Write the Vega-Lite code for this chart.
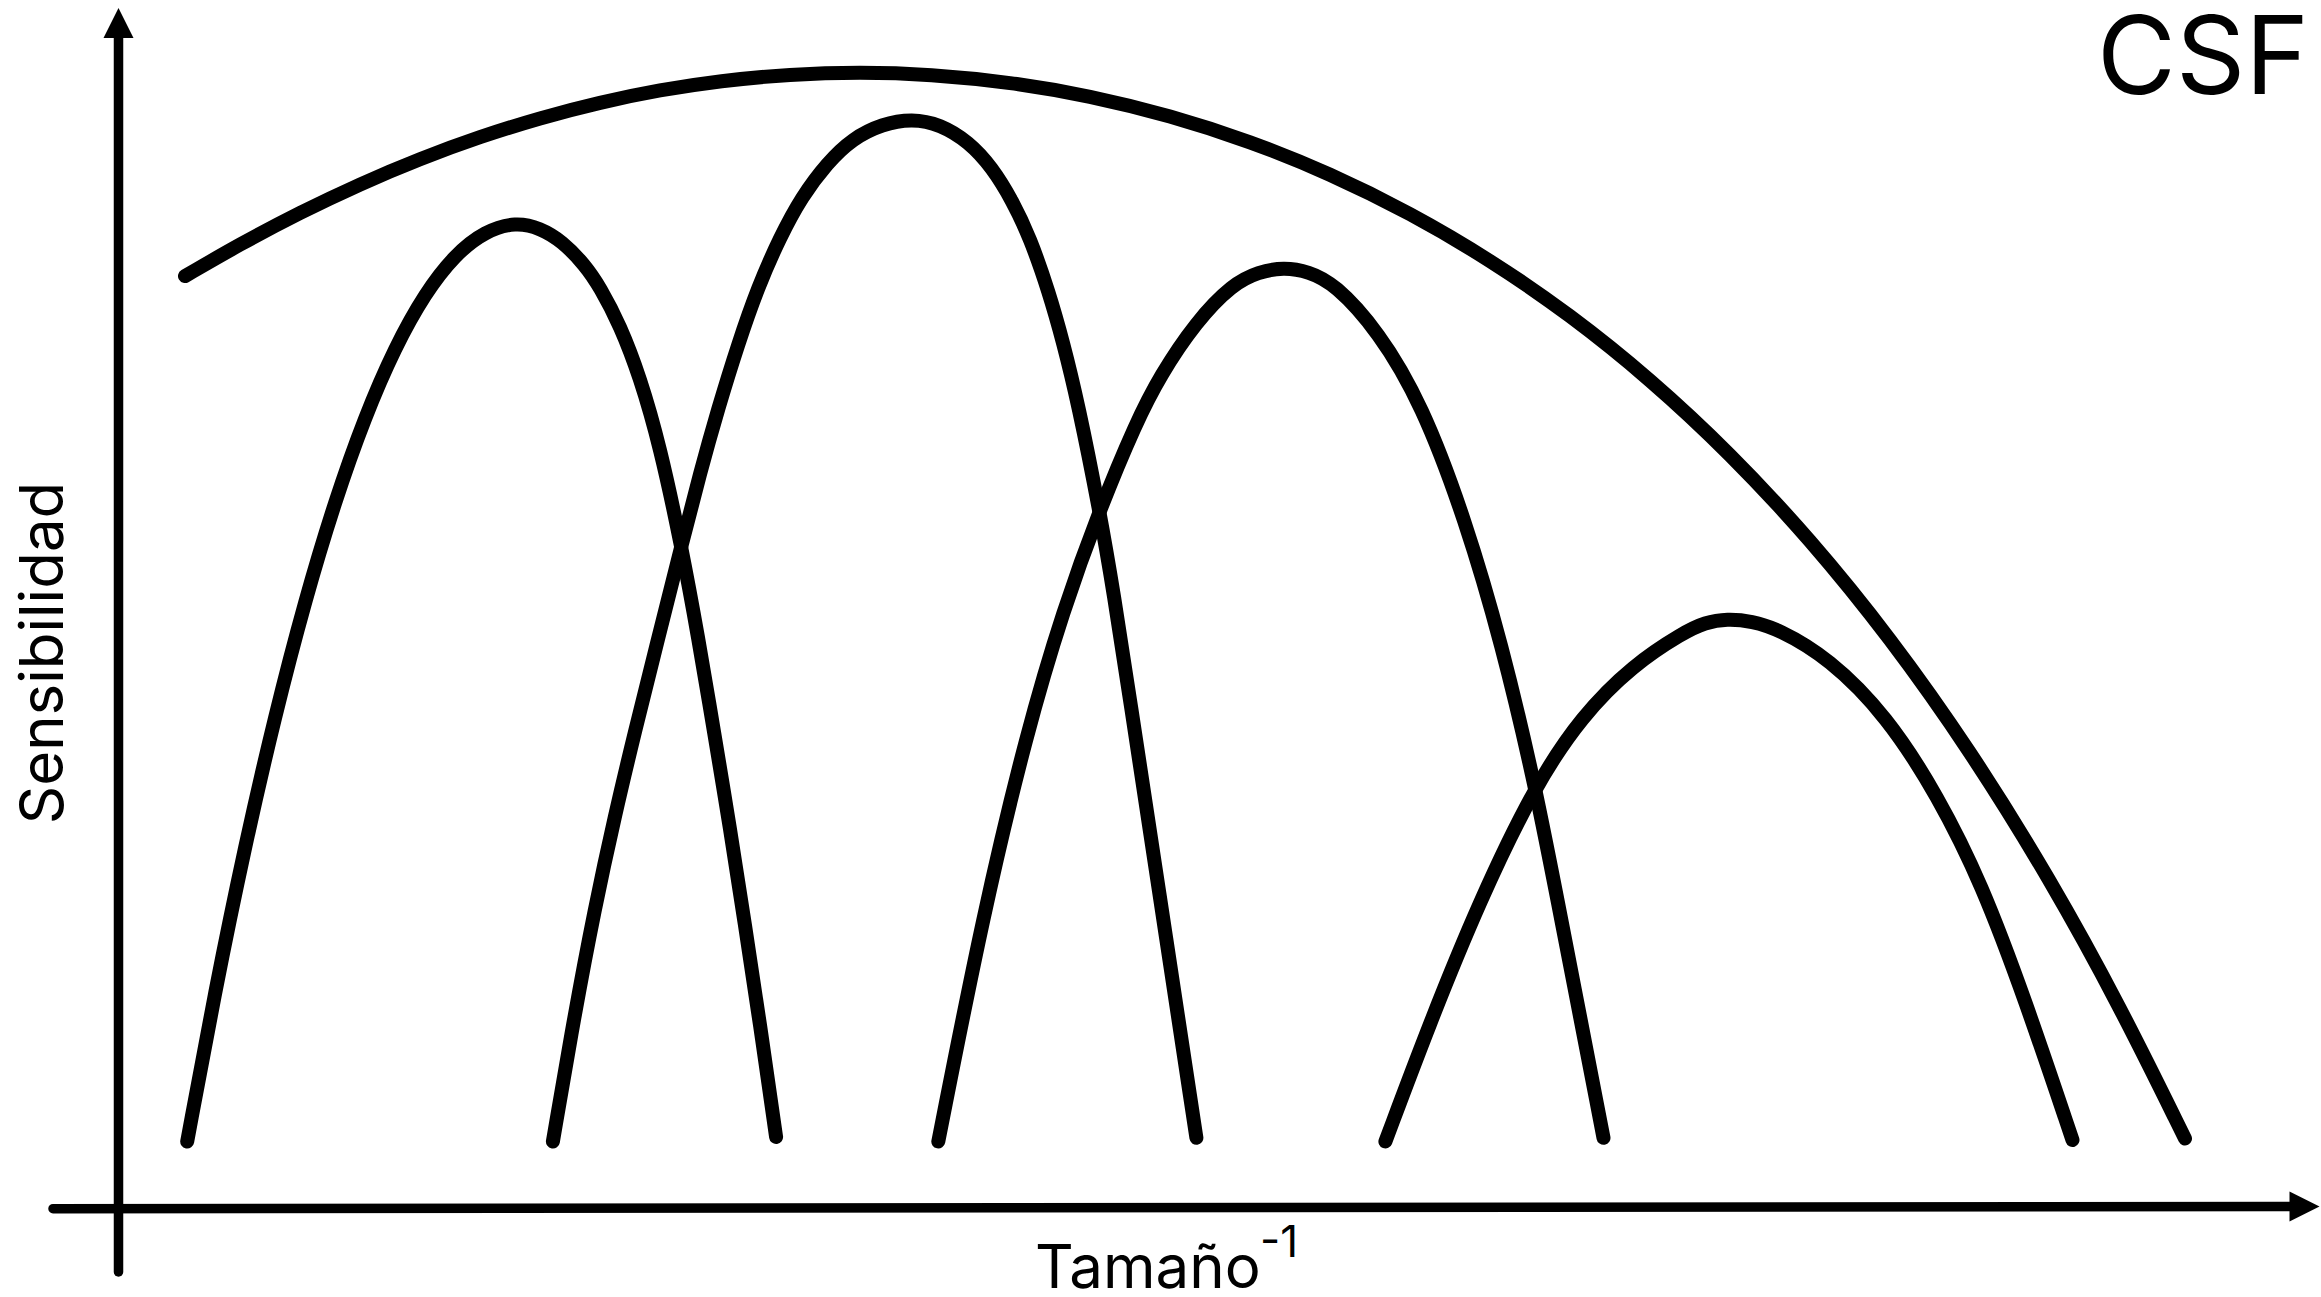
{
  "$schema": "https://vega.github.io/schema/vega-lite/v6.json",
  "width": 2321,
  "height": 1297,
  "autosize": {"type": "none"},
  "padding": 0,
  "background": "white",
  "config": {"view": {"stroke": null}},
  "datasets": {
    "curves": [
      {"curve": "CSF", "x": 18.5, "y": 102.09},
      {"curve": "CSF", "x": 24.0, "y": 105.28},
      {"curve": "CSF", "x": 30.0, "y": 108.45},
      {"curve": "CSF", "x": 36.0, "y": 111.30},
      {"curve": "CSF", "x": 42.0, "y": 113.83},
      {"curve": "CSF", "x": 48.0, "y": 116.03},
      {"curve": "CSF", "x": 54.0, "y": 117.91},
      {"curve": "CSF", "x": 60.0, "y": 119.47},
      {"curve": "CSF", "x": 66.0, "y": 120.71},
      {"curve": "CSF", "x": 72.0, "y": 121.62},
      {"curve": "CSF", "x": 79.0, "y": 122.28},
      {"curve": "CSF", "x": 86.0, "y": 122.50},
      {"curve": "CSF", "x": 93.0, "y": 122.28},
      {"curve": "CSF", "x": 101.0, "y": 121.49},
      {"curve": "CSF", "x": 109.0, "y": 120.12},
      {"curve": "CSF", "x": 117.0, "y": 118.15},
      {"curve": "CSF", "x": 125.0, "y": 115.58},
      {"curve": "CSF", "x": 133.0, "y": 112.34},
      {"curve": "CSF", "x": 141.0, "y": 108.41},
      {"curve": "CSF", "x": 149.0, "y": 103.73},
      {"curve": "CSF", "x": 157.0, "y": 98.23},
      {"curve": "CSF", "x": 165.0, "y": 91.81},
      {"curve": "CSF", "x": 173.0, "y": 84.37},
      {"curve": "CSF", "x": 181.0, "y": 75.80},
      {"curve": "CSF", "x": 189.0, "y": 65.95},
      {"curve": "CSF", "x": 197.0, "y": 54.68},
      {"curve": "CSF", "x": 205.0, "y": 41.80},
      {"curve": "CSF", "x": 212.0, "y": 29.06},
      {"curve": "CSF", "x": 218.5, "y": 15.85},

      {"curve": "c1", "x": 18.72, "y": 15.55},
      {"curve": "c1", "x": 21.50, "y": 30.56},
      {"curve": "c1", "x": 24.50, "y": 45.12},
      {"curve": "c1", "x": 27.50, "y": 58.15},
      {"curve": "c1", "x": 30.50, "y": 69.65},
      {"curve": "c1", "x": 33.50, "y": 79.62},
      {"curve": "c1", "x": 36.50, "y": 88.06},
      {"curve": "c1", "x": 39.50, "y": 94.98},
      {"curve": "c1", "x": 42.50, "y": 100.38},
      {"curve": "c1", "x": 45.50, "y": 104.24},
      {"curve": "c1", "x": 48.50, "y": 106.59},
      {"curve": "c1", "x": 51.60, "y": 107.50},
      {"curve": "c1", "x": 54.00, "y": 106.90},
      {"curve": "c1", "x": 56.20, "y": 105.60},
      {"curve": "c1", "x": 58.50, "y": 103.20},
      {"curve": "c1", "x": 60.00, "y": 101.00},
      {"curve": "c1", "x": 62.00, "y": 97.20},
      {"curve": "c1", "x": 64.00, "y": 92.00},
      {"curve": "c1", "x": 66.00, "y": 85.10},
      {"curve": "c1", "x": 68.16, "y": 75.00},
      {"curve": "c1", "x": 69.80, "y": 66.10},
      {"curve": "c1", "x": 71.44, "y": 56.30},
      {"curve": "c1", "x": 73.00, "y": 46.90},
      {"curve": "c1", "x": 74.50, "y": 37.20},
      {"curve": "c1", "x": 76.00, "y": 27.30},
      {"curve": "c1", "x": 77.61, "y": 16.00},

      {"curve": "c2", "x": 55.29, "y": 15.55},
      {"curve": "c2", "x": 57.41, "y": 27.97},
      {"curve": "c2", "x": 59.44, "y": 38.73},
      {"curve": "c2", "x": 61.51, "y": 48.25},
      {"curve": "c2", "x": 63.44, "y": 56.35},
      {"curve": "c2", "x": 65.81, "y": 65.83},
      {"curve": "c2", "x": 68.16, "y": 75.20},
      {"curve": "c2", "x": 70.01, "y": 82.40},
      {"curve": "c2", "x": 71.80, "y": 88.80},
      {"curve": "c2", "x": 73.81, "y": 95.30},
      {"curve": "c2", "x": 75.80, "y": 101.00},
      {"curve": "c2", "x": 78.01, "y": 106.00},
      {"curve": "c2", "x": 80.16, "y": 110.00},
      {"curve": "c2", "x": 82.71, "y": 113.40},
      {"curve": "c2", "x": 85.25, "y": 115.85},
      {"curve": "c2", "x": 88.21, "y": 117.30},
      {"curve": "c2", "x": 91.21, "y": 117.85},
      {"curve": "c2", "x": 94.01, "y": 117.27},
      {"curve": "c2", "x": 96.88, "y": 115.52},
      {"curve": "c2", "x": 99.21, "y": 112.96},
      {"curve": "c2", "x": 101.24, "y": 109.63},
      {"curve": "c2", "x": 103.01, "y": 105.91},
      {"curve": "c2", "x": 104.88, "y": 100.53},
      {"curve": "c2", "x": 106.31, "y": 95.50},
      {"curve": "c2", "x": 107.79, "y": 89.47},
      {"curve": "c2", "x": 109.97, "y": 78.57},
      {"curve": "c2", "x": 111.40, "y": 70.20},
      {"curve": "c2", "x": 112.88, "y": 60.53},
      {"curve": "c2", "x": 115.78, "y": 41.39},
      {"curve": "c2", "x": 119.64, "y": 15.92},

      {"curve": "c3", "x": 93.83, "y": 15.55},
      {"curve": "c3", "x": 98.33, "y": 38.38},
      {"curve": "c3", "x": 102.70, "y": 56.56},
      {"curve": "c3", "x": 106.33, "y": 68.72},
      {"curve": "c3", "x": 109.97, "y": 78.75},
      {"curve": "c3", "x": 113.60, "y": 87.44},
      {"curve": "c3", "x": 116.00, "y": 92.12},
      {"curve": "c3", "x": 119.60, "y": 97.52},
      {"curve": "c3", "x": 123.27, "y": 101.30},
      {"curve": "c3", "x": 125.86, "y": 102.50},
      {"curve": "c3", "x": 128.36, "y": 102.97},
      {"curve": "c3", "x": 130.86, "y": 102.55},
      {"curve": "c3", "x": 133.45, "y": 101.34},
      {"curve": "c3", "x": 137.81, "y": 96.62},
      {"curve": "c3", "x": 142.17, "y": 89.35},
      {"curve": "c3", "x": 146.54, "y": 77.71},
      {"curve": "c3", "x": 150.17, "y": 65.35},
      {"curve": "c3", "x": 153.52, "y": 51.18},
      {"curve": "c3", "x": 155.99, "y": 38.45},
      {"curve": "c3", "x": 160.35, "y": 15.92},

      {"curve": "c4", "x": 138.54, "y": 15.55},
      {"curve": "c4", "x": 142.90, "y": 27.20},
      {"curve": "c4", "x": 147.99, "y": 39.70},
      {"curve": "c4", "x": 153.52, "y": 51.18},
      {"curve": "c4", "x": 158.17, "y": 58.08},
      {"curve": "c4", "x": 163.26, "y": 63.17},
      {"curve": "c4", "x": 168.35, "y": 66.45},
      {"curve": "c4", "x": 170.50, "y": 67.45},
      {"curve": "c4", "x": 172.71, "y": 67.82},
      {"curve": "c4", "x": 175.20, "y": 67.58},
      {"curve": "c4", "x": 177.80, "y": 66.81},
      {"curve": "c4", "x": 182.89, "y": 63.90},
      {"curve": "c4", "x": 188.70, "y": 58.08},
      {"curve": "c4", "x": 193.79, "y": 50.09},
      {"curve": "c4", "x": 198.16, "y": 41.36},
      {"curve": "c4", "x": 202.52, "y": 29.73},
      {"curve": "c4", "x": 207.25, "y": 15.70}
    ],
    "axes": [
      {"axis": "sensibilidad", "x": 11.85, "y": 2.5, "x2": 11.85, "y2": 125.9},
      {"axis": "tamano", "x": 5.3, "y": 8.83, "x2": 229.0, "y2": 9.05}
    ],
    "arrows": [
      {"axis": "sensibilidad", "x": 11.85, "y": 127.4, "shape": "M0,-1L1,1L-1,1Z"},
      {"axis": "tamano", "x": 230.45, "y": 9.05, "shape": "M1,0L-1,-1L-1,1Z"}
    ],
    "labels": [
      {"role": "title", "label": "CSF", "x": 230.9, "y": 120.3},
      {"role": "xlabel", "label": "Tamaño", "x": 103.5, "y": 0.9},
      {"role": "xexp", "label": "-1", "x": 126.0, "y": 4.0},
      {"role": "ylabel", "label": "Sensibilidad", "x": 6.3, "y": 64.4}
    ]
  },
  "resolve": {"scale": {"x": "shared", "y": "shared"}},
  "encoding": {
    "x": {"field": "x", "type": "quantitative", "scale": {"domain": [0, 232.1], "nice": false, "zero": false}, "axis": null},
    "y": {"field": "y", "type": "quantitative", "scale": {"domain": [0, 129.7], "nice": false, "zero": false}, "axis": null}
  },
  "layer": [
    {
      "data": {"name": "axes"},
      "mark": {"type": "rule", "color": "black", "strokeWidth": 9.5, "strokeCap": "round"},
      "encoding": {
        "x2": {"field": "x2"},
        "y2": {"field": "y2"}
      }
    },
    {
      "data": {"name": "arrows"},
      "mark": {"type": "point", "filled": true, "color": "black", "opacity": 1, "size": 900, "strokeWidth": 0},
      "encoding": {
        "shape": {"field": "shape", "type": "nominal", "scale": null, "legend": null}
      }
    },
    {
      "data": {"name": "curves"},
      "mark": {"type": "line", "color": "black", "strokeWidth": 14, "strokeCap": "round", "strokeJoin": "round", "interpolate": "basis"},
      "encoding": {
        "detail": {"field": "curve", "type": "nominal"}
      }
    },
    {
      "data": {"name": "labels"},
      "transform": [{"filter": "datum.role === 'title'"}],
      "mark": {"type": "text", "font": "Inter", "fontSize": 108, "align": "right", "baseline": "alphabetic", "color": "black"},
      "encoding": {"text": {"field": "label"}}
    },
    {
      "data": {"name": "labels"},
      "transform": [{"filter": "datum.role === 'xlabel'"}],
      "mark": {"type": "text", "font": "Inter", "fontSize": 60, "align": "left", "baseline": "alphabetic", "color": "black"},
      "encoding": {"text": {"field": "label"}}
    },
    {
      "data": {"name": "labels"},
      "transform": [{"filter": "datum.role === 'xexp'"}],
      "mark": {"type": "text", "font": "Inter", "fontSize": 44, "align": "left", "baseline": "alphabetic", "color": "black"},
      "encoding": {"text": {"field": "label"}}
    },
    {
      "data": {"name": "labels"},
      "transform": [{"filter": "datum.role === 'ylabel'"}],
      "mark": {"type": "text", "font": "Inter", "fontSize": 60, "align": "center", "baseline": "alphabetic", "angle": 270, "color": "black"},
      "encoding": {"text": {"field": "label"}}
    }
  ]
}
